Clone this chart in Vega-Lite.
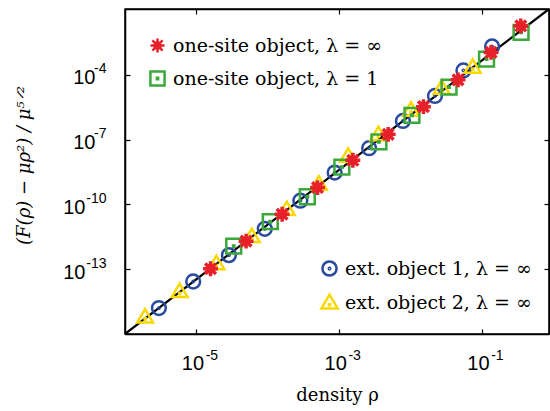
{
  "$schema": "https://vega.github.io/schema/vega-lite/v6.json",
  "width": 424,
  "height": 325,
  "autosize": "none",
  "padding": {"left": 125, "top": 9, "right": 1, "bottom": 77},
  "background": "white",
  "config": {
    "view": {"stroke": "black", "strokeWidth": 1.5},
    "axis": {
      "grid": false,
      "domainColor": "black",
      "domainWidth": 1.5,
      "tickColor": "black",
      "tickWidth": 1.2,
      "tickSize": -5,
      "labelFont": "Liberation Sans",
      "labelFontSize": 20,
      "labelColor": "black",
      "labelOverlap": false,
      "labelFlush": false,
      "titleFont": "DejaVu Serif",
      "titleFontSize": 18,
      "titleFontWeight": "normal",
      "titleColor": "black"
    },
    "legend": {
      "labelFont": "DejaVu Serif",
      "labelFontSize": 19,
      "labelColor": "black",
      "labelLimit": 400,
      "symbolStrokeWidth": 2.5,
      "symbolSize": 200,
      "padding": 0,
      "rowPadding": 8,
      "labelOffset": 6
    }
  },
  "datasets": {
    "line": [
      {"rho": 1e-6, "val": 1e-16},
      {"rho": 0.87, "val": 0.11}
    ],
    "ext": [
      {"series": "ext. object 1, λ = ∞", "rho": 2.985e-6, "val": 1.585e-15},
      {"series": "ext. object 1, λ = ∞", "rho": 9.02e-6, "val": 2.69e-14},
      {"series": "ext. object 1, λ = ∞", "rho": 2.858e-5, "val": 4.47e-13},
      {"series": "ext. object 1, λ = ∞", "rho": 9.08e-5, "val": 7.41e-12},
      {"series": "ext. object 1, λ = ∞", "rho": 2.858e-4, "val": 1.479e-10},
      {"series": "ext. object 1, λ = ∞", "rho": 8.65e-4, "val": 2.95e-9},
      {"series": "ext. object 1, λ = ∞", "rho": 2.63e-3, "val": 3.98e-8},
      {"series": "ext. object 1, λ = ∞", "rho": 7.82e-3, "val": 7.24e-7},
      {"series": "ext. object 1, λ = ∞", "rho": 2.198e-2, "val": 1.047e-5},
      {"series": "ext. object 1, λ = ∞", "rho": 5.5e-2, "val": 1.585e-4},
      {"series": "ext. object 1, λ = ∞", "rho": 1.387e-1, "val": 2.04e-3},
      {"series": "ext. object 2, λ = ∞", "rho": 1.914e-6, "val": 6.37e-16},
      {"series": "ext. object 2, λ = ∞", "rho": 5.83e-6, "val": 9.62e-15},
      {"series": "ext. object 2, λ = ∞", "rho": 1.905e-5, "val": 1.858e-13},
      {"series": "ext. object 2, λ = ∞", "rho": 5.97e-5, "val": 3.357e-12},
      {"series": "ext. object 2, λ = ∞", "rho": 1.845e-4, "val": 5.94e-11},
      {"series": "ext. object 2, λ = ∞", "rho": 5.19e-4, "val": 8.97e-10},
      {"series": "ext. object 2, λ = ∞", "rho": 1.337e-3, "val": 1.734e-8},
      {"series": "ext. object 2, λ = ∞", "rho": 3.548e-3, "val": 1.746e-7},
      {"series": "ext. object 2, λ = ∞", "rho": 1.014e-2, "val": 2.371e-6},
      {"series": "ext. object 2, λ = ∞", "rho": 2.729e-2, "val": 2.466e-5},
      {"series": "ext. object 2, λ = ∞", "rho": 7.43e-2, "val": 2.301e-4}
    ],
    "one": [
      {"series": "one-site object, λ = 1", "rho": 3.334e-5, "val": 1.159e-12},
      {"series": "one-site object, λ = 1", "rho": 1.084e-4, "val": 1.574e-11},
      {"series": "one-site object, λ = 1", "rho": 3.581e-4, "val": 2.249e-10},
      {"series": "one-site object, λ = 1", "rho": 1.091e-3, "val": 5.309e-9},
      {"series": "one-site object, λ = 1", "rho": 3.606e-3, "val": 7.85e-8},
      {"series": "one-site object, λ = 1", "rho": 1.047e-2, "val": 1.318e-6},
      {"series": "one-site object, λ = 1", "rho": 3.459e-2, "val": 2.655e-5},
      {"series": "one-site object, λ = 1", "rho": 1.161e-1, "val": 5.284e-4},
      {"series": "one-site object, λ = 1", "rho": 3.532e-1, "val": 9.06e-3},
      {"series": "one-site object, λ = ∞", "rho": 1.578e-5, "val": 1.045e-13},
      {"series": "one-site object, λ = ∞", "rho": 4.966e-5, "val": 1.972e-12},
      {"series": "one-site object, λ = ∞", "rho": 1.589e-4, "val": 3.491e-11},
      {"series": "one-site object, λ = ∞", "rho": 4.977e-4, "val": 5.998e-10},
      {"series": "one-site object, λ = ∞", "rho": 1.556e-3, "val": 1.096e-8},
      {"series": "one-site object, λ = ∞", "rho": 4.864e-3, "val": 1.746e-7},
      {"series": "one-site object, λ = ∞", "rho": 1.517e-2, "val": 3.327e-6},
      {"series": "one-site object, λ = ∞", "rho": 4.624e-2, "val": 5.78e-5},
      {"series": "one-site object, λ = ∞", "rho": 1.343e-1, "val": 1.079e-3},
      {"series": "one-site object, λ = ∞", "rho": 3.5e-1, "val": 1.811e-2}
    ]
  },
  "layer": [
    {
      "data": {"name": "line"},
      "mark": {"type": "line", "color": "black", "strokeWidth": 2.2, "clip": true},
      "encoding": {
        "x": {
          "field": "rho", "type": "quantitative",
          "scale": {"type": "log", "domain": [1e-6, 0.87], "nice": false},
          "axis": {"orient": "top", "values": [1e-5, 1e-3, 1e-1], "labels": false, "title": null}
        },
        "y": {
          "field": "val", "type": "quantitative",
          "scale": {"type": "log", "domain": [1e-16, 0.11], "nice": false},
          "axis": {"orient": "right", "values": [1e-13, 1e-10, 1e-7, 1e-4], "labels": false, "title": null}
        }
      }
    },
    {
      "data": {"name": "ext"},
      "mark": {"type": "point", "filled": false, "strokeWidth": 2.5, "opacity": 1},
      "encoding": {
        "x": {
          "field": "rho", "type": "quantitative",
          "axis": {"orient": "bottom", "values": [1e-5, 1e-3, 1e-1], "domain": false, "ticks": false, "title": null,
            "labelFontSize": 14, "labelPadding": 14, "labelOffset": 15,
            "labelExpr": "datum.value < 1e-4 ? '-5' : datum.value < 1e-2 ? '-3' : '-1'"}
        },
        "y": {
          "field": "val", "type": "quantitative",
          "axis": {"orient": "left", "values": [1e-13, 1e-10, 1e-7, 1e-4], "domain": false, "ticks": false, "title": null,
            "labelFontSize": 14, "labelPadding": 19, "labelOffset": -6,
            "labelExpr": "datum.value < 1e-12 ? '-13' : datum.value < 1e-9 ? '-10' : datum.value < 1e-6 ? '-7' : '-4'"}
        },
        "color": {
          "field": "series", "type": "nominal",
          "scale": {"domain": ["ext. object 1, λ = ∞", "ext. object 2, λ = ∞"], "range": ["#2a4a9e", "#f7d800"]},
          "legend": {"title": null, "orient": "none", "legendX": 195, "legendY": 250}
        },
        "shape": {
          "field": "series", "type": "nominal",
          "scale": {"domain": ["ext. object 1, λ = ∞", "ext. object 2, λ = ∞"], "range": [
            "M1,0A1,1,0,1,1,-1,0A1,1,0,1,1,1,0Z M0.1,0A0.1,0.1,0,1,1,-0.1,0A0.1,0.1,0,1,1,0.1,0Z",
            "M0,-1.1L1.15,0.85H-1.15Z M-0.08,0.25H0.08V0.4H-0.08Z"
          ]},
          "legend": {"title": null, "orient": "none", "legendX": 195, "legendY": 250}
        },
        "size": {"value": 190}
      }
    },
    {
      "data": {"name": "one"},
      "mark": {"type": "point", "filled": false, "opacity": 1},
      "encoding": {
        "x": {
          "field": "rho", "type": "quantitative", "title": "density ρ",
          "axis": {"orient": "bottom", "values": [1e-5, 1e-3, 1e-1], "labelPadding": 24, "labelOffset": -4,
            "titleY": 66, "titleBaseline": "alphabetic",
            "labelExpr": "'10'"}
        },
        "y": {
          "field": "val", "type": "quantitative", "title": "(F(ρ) − μρ²) / μ⁵ᐟ²",
          "axis": {"orient": "left", "values": [1e-13, 1e-10, 1e-7, 1e-4],
            "labelPadding": {"condition": {"test": "datum.value < 1e-9", "value": 45}, "value": 35},
            "labelOffset": 3, "titleX": -92, "titleY": 156, "titleFontStyle": "italic",
            "labelExpr": "'10'"}
        },
        "color": {
          "field": "series", "type": "nominal",
          "scale": {"domain": ["one-site object, λ = ∞", "one-site object, λ = 1"], "range": ["#e8202a", "#3aa83a"]},
          "legend": {"title": null, "orient": "none", "legendX": 23, "legendY": 27}
        },
        "shape": {
          "field": "series", "type": "nominal",
          "scale": {"domain": ["one-site object, λ = ∞", "one-site object, λ = 1"], "range": [
            "M-1,0H1M0,-1V1M-0.72,-0.72L0.72,0.72M-0.72,0.72L0.72,-0.72M-0.4,-0.4H0.4V0.4H-0.4Z",
            "M-1,-1H1V1H-1Z M-0.09,-0.09H0.09V0.09H-0.09Z"
          ]},
          "legend": {"title": null, "orient": "none", "legendX": 23, "legendY": 27}
        },
        "strokeWidth": {"condition": {"test": "datum.series === 'one-site object, λ = ∞'", "value": 3.5}, "value": 2.5},
        "size": {"value": 220}
      }
    }
  ],
  "resolve": {
    "scale": {"color": "independent", "shape": "independent"},
    "axis": {"x": "independent", "y": "independent"},
    "legend": {"color": "independent", "shape": "independent"}
  }
}
